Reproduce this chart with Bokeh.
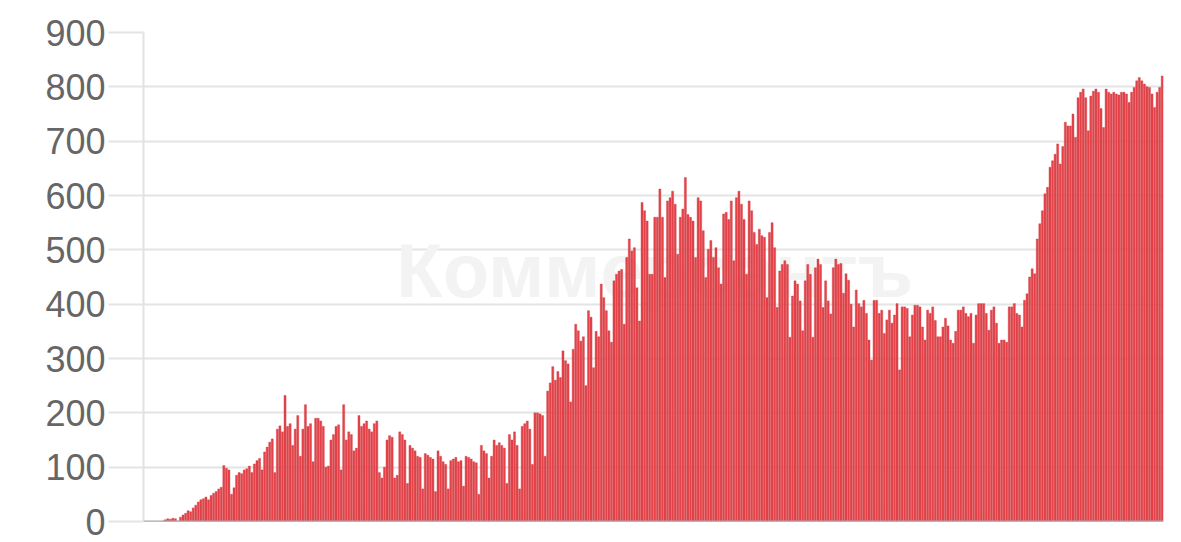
from bokeh.plotting import figure
from bokeh.models import Range1d, FixedTicker, Span, Label
from bokeh.embed import file_html
from bokeh.resources import INLINE

# Daily values (one bar per day)
values = [
    0, 0, 0, 0, 0, 0, 0, 1, 3, 5,
    4, 6, 5, 1, 8, 12, 15, 20, 18, 25,
    30, 36, 40, 42, 45, 40, 48, 52, 55, 60,
    63, 103, 98, 95, 50, 62, 85, 90, 88, 95,
    97, 102, 90, 106, 112, 116, 95, 128, 137, 146,
    152, 90, 170, 176, 165, 232, 175, 180, 140, 170,
    195, 120, 170, 215, 175, 180, 110, 190, 190, 185,
    175, 100, 102, 150, 160, 175, 178, 95, 215, 150,
    165, 160, 130, 135, 195, 175, 180, 185, 170, 165,
    180, 185, 90, 80, 100, 150, 158, 155, 80, 85,
    165, 160, 150, 70, 140, 135, 130, 120, 118, 60,
    125, 122, 118, 115, 55, 130, 120, 110, 105, 60,
    112, 115, 118, 110, 112, 65, 120, 118, 115, 110,
    108, 50, 140, 130, 125, 80, 120, 150, 140, 145,
    140, 135, 70, 160, 150, 165, 140, 60, 175, 180,
    185, 170, 105, 200, 200, 198, 195, 120, 240, 255,
    285, 260, 276, 265, 314, 296, 290, 220, 317, 363,
    351, 332, 340, 250, 388, 376, 283, 350, 340, 437,
    412, 388, 351, 330, 443, 455, 461, 464, 363, 486,
    520, 498, 504, 430, 369, 587, 572, 553, 455, 455,
    560, 560, 612, 560, 449, 590, 596, 608, 584, 492,
    560, 575, 633, 565, 560, 553, 486, 596, 590, 535,
    449, 501, 517, 486, 504, 467, 437, 566, 569, 556,
    590, 480, 596, 608, 584, 556, 455, 590, 572, 532,
    510, 538, 526, 523, 412, 532, 550, 504, 394, 461,
    473, 480, 473, 339, 415, 443, 437, 406, 351, 443,
    473, 455, 339, 467, 483, 473, 394, 443, 406, 382,
    467, 483, 473, 475, 420, 456, 444, 400, 358, 426,
    401, 395, 407, 383, 334, 297, 407, 407, 383, 389,
    346, 371, 389, 365, 380, 401, 279, 395, 395, 392,
    340, 380, 398, 398, 395, 358, 334, 389, 383, 395,
    370, 340, 340, 358, 374, 360, 334, 328, 350, 389,
    389, 395, 383, 377, 383, 328, 380, 401, 401, 401,
    383, 352, 389, 395, 365, 328, 334, 334, 330, 395,
    395, 401, 383, 380, 358, 407, 419, 450, 465, 456,
    520, 548, 572, 603, 615, 652, 664, 676, 695, 658,
    690, 735, 728, 728, 750, 707, 780, 790, 796, 780,
    719, 783, 792, 796, 790, 760, 725, 796, 790, 787,
    790, 787, 785, 790, 790, 787, 771, 790, 799, 811,
    817, 811, 805, 800, 799, 787, 762, 790, 799, 820,
]
days = list(range(len(values)))
y_ticks = [0, 100, 200, 300, 400, 500, 600, 700, 800, 900]
watermark = "Коммерсантъ"

p = figure(width=1173, height=541, output_backend="svg", toolbar_location=None,
           x_axis_location=None,
           x_range=Range1d(-0.5, len(values) - 0.5),
           y_range=Range1d(y_ticks[0], y_ticks[-1]),
           min_border_left=143, min_border_top=32, min_border_bottom=20,
           min_border_right=10)
p.outline_line_color = None
p.background_fill_color = "white"
p.border_fill_color = "white"

p.xgrid.visible = False
p.ygrid.grid_line_color = "#e4e4e4"
p.ygrid.grid_line_width = 2
p.yaxis.ticker = FixedTicker(ticks=y_ticks)
p.yaxis.axis_line_color = "#e2e2e2"
p.yaxis.axis_line_width = 2
p.yaxis.major_tick_line_color = "#e4e4e4"
p.yaxis.major_tick_line_width = 2
p.yaxis.major_tick_out = 35
p.yaxis.major_tick_in = 0
p.yaxis.minor_tick_line_color = None
p.yaxis.major_label_standoff = 3
p.yaxis.major_label_text_font = "Liberation Sans"
p.yaxis.major_label_text_font_size = "36px"
p.yaxis.major_label_text_color = "#666666"

wm = Label(x=len(values) * 0.5, y=462, text=watermark, text_align="center",
           text_baseline="middle", text_font="Liberation Sans",
           text_font_style="bold", text_font_size="76px", text_color="#f3f3f3",
           level="underlay")
p.add_layout(wm)

p.vbar(x=days, top=values, width=0.8, fill_color="#e4434a",
       line_color="#d23a3f", line_width=0.4)

base = Span(location=0, dimension="width", line_color="#a8a8a8", line_width=2)
p.add_layout(base)

open("out.html", "w").write(file_html(p, INLINE))
